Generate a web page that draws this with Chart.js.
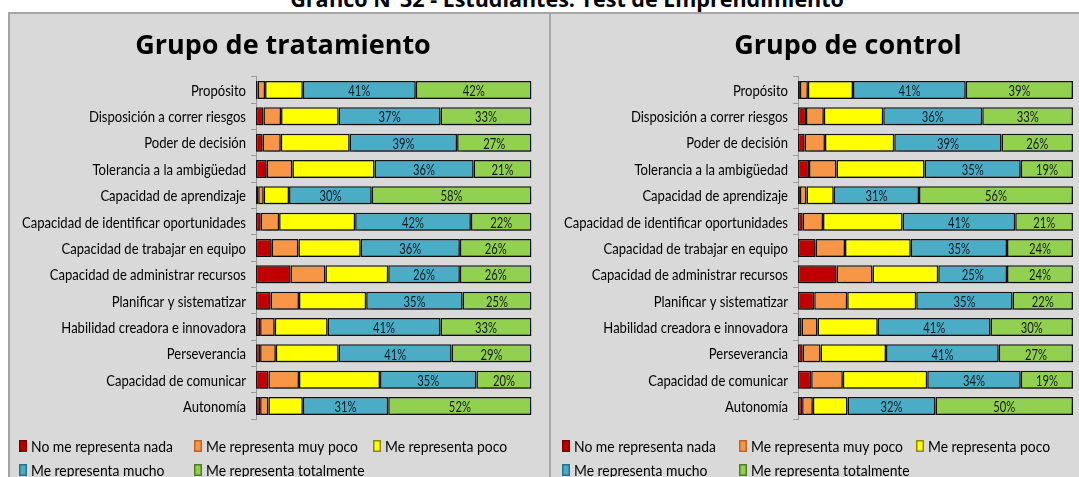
<!DOCTYPE html>
<html>
<head>
<meta charset="utf-8">
<script src="https://cdn.jsdelivr.net/npm/chart.js@4/dist/chart.umd.min.js"></script>
<style>
  html, body { margin: 0; padding: 0; background: #ffffff; }
  body { width: 1079px; height: 477px; position: relative; overflow: hidden; }
  #mainTitle {
    position: absolute; left: 0; top: -11px; width: 1134px; text-align: center;
    font: bold 21.5px "Open Sans", "Noto Sans", sans-serif; line-height: 20px; color: #000;
  }
  #frame {
    position: absolute; left: 8px; top: 12px; width: 1100px; height: 480px;
    background: #d9d9d9; border: 2px solid #a6a6a6; box-sizing: border-box;
  }
  #divider { position: absolute; left: 549px; top: 12px; width: 2px; height: 470px; background: #a6a6a6; }
  .panel { position: absolute; top: 0; height: 477px; }
</style>
</head>
<body>
<div id="frame"></div>
<div id="divider"></div>
<div id="mainTitle">Gráfico N°32 - Estudiantes: Test de Emprendimiento</div>
<div class="panel" style="left:0;width:550px;"><canvas id="cTrat"></canvas></div>
<div class="panel" style="left:550px;width:529px;"><canvas id="cCtrl"></canvas></div>
<script>
// Dimensions of entrepreneurship evaluated
const categories = [
  'Propósito',
  'Disposición a correr riesgos',
  'Poder de decisión',
  'Tolerancia a la ambigüedad',
  'Capacidad de aprendizaje',
  'Capacidad de identificar oportunidades',
  'Capacidad de trabajar en equipo',
  'Capacidad de administrar recursos',
  'Planificar y sistematizar',
  'Habilidad creadora e innovadora',
  'Perseverancia',
  'Capacidad de comunicar',
  'Autonomía'
];

const seriesNames = [
  'No me representa nada',
  'Me representa muy poco',
  'Me representa poco',
  'Me representa mucho',
  'Me representa totalmente'
];

// Grupo de tratamiento (% of students)
const tratNada       = [0.6, 2.7, 2.4, 3.9, 0.8, 1.7, 5.7, 12.5, 5.3, 1.5, 1.5, 4.5, 1.5];
const tratMuyPoco    = [2.7, 6.4, 6.6, 9.3, 2.0, 6.7, 9.7, 12.7, 10.3, 5.3, 5.7, 11.1, 3.0];
const tratPoco       = [13.7, 20.9, 25.0, 29.8, 9.2, 27.6, 22.6, 22.8, 24.4, 19.2, 22.8, 29.4, 12.5];
const tratMucho      = [41, 37, 39, 36, 30, 42, 36, 26, 35, 41, 41, 35, 31];
const tratTotalmente = [42, 33, 27, 21, 58, 22, 26, 26, 25, 33, 29, 20, 52];

// Grupo de control (% of students)
const ctrlNada       = [0.7, 2.9, 2.4, 4.0, 0.7, 1.7, 6.4, 14.0, 5.9, 1.3, 1.7, 4.8, 1.5];
const ctrlMuyPoco    = [2.9, 6.5, 7.4, 10.0, 2.4, 7.4, 10.7, 13.1, 12.0, 5.8, 6.5, 11.5, 3.9];
const ctrlPoco       = [16.4, 21.6, 25.2, 32.0, 9.9, 28.9, 23.9, 23.9, 25.1, 21.9, 23.8, 30.7, 12.6];
const ctrlMucho      = [41, 36, 39, 35, 31, 41, 35, 25, 35, 41, 41, 34, 32];
const ctrlTotalmente = [39, 33, 26, 19, 56, 21, 24, 24, 22, 30, 27, 19, 50];

const fillColors   = ['#c00000', '#f79646', '#ffff00', '#4bacc6', '#92d050'];
const legendEdges  = ['#7a0000', '#b8662a', '#8a8a00', '#2a7088', '#4f7a26'];
const labelledSets = [3, 4];

const textFamily = 'Lato, "Open Sans", sans-serif';

// Draws text squeezed horizontally by the factor sx
function drawNarrow(ctx, text, x, y, sx) {
  ctx.save();
  ctx.translate(x, y);
  ctx.scale(sx, 1);
  ctx.fillText(text, 0, 0);
  ctx.restore();
}

function squeezeFor(ctx, font, sample, width) {
  ctx.save();
  ctx.font = font;
  const w = ctx.measureText(sample).width;
  ctx.restore();
  return Math.min(1, width / w);
}

function buildDatasets(series) {
  return series.map((values, i) => ({
    label: seriesNames[i],
    data: values,
    backgroundColor: fillColors[i],
    borderColor: '#141414',
    borderWidth: 1.5,
    borderSkipped: false,
    barPercentage: 1,
    categoryPercentage: 0.685
  }));
}

// Soft drop shadow under the bars
const shadowPlugin = {
  id: 'barShadow',
  beforeDatasetsDraw(chart) {
    const ctx = chart.ctx;
    ctx.save();
    ctx.shadowColor = 'rgba(0,0,0,0.45)';
    ctx.shadowBlur = 5;
    ctx.shadowOffsetX = 2;
    ctx.shadowOffsetY = 4;
  },
  afterDatasetsDraw(chart) {
    chart.ctx.restore();
  }
};

// Percentage labels centred in the larger segments, plus category names
const labelPlugin = {
  id: 'labels',
  afterDatasetsDraw(chart) {
    const ctx = chart.ctx;
    ctx.save();
    const valFont = '16px ' + textFamily;
    const vsx = squeezeFor(ctx, valFont, '41%', 22);
    ctx.font = valFont;
    ctx.fillStyle = '#141a22';
    ctx.textAlign = 'center';
    ctx.textBaseline = 'middle';
    labelledSets.forEach(di => {
      const meta = chart.getDatasetMeta(di);
      const values = chart.data.datasets[di].data;
      meta.data.forEach((bar, idx) => {
        const cx = (bar.x + bar.base) / 2;
        drawNarrow(ctx, Math.round(values[idx]) + '%', cx, bar.y + 1, vsx);
      });
    });

    const yScale = chart.scales.y;
    const catFont = '15px ' + textFamily;
    const csx = squeezeFor(ctx, catFont, 'Capacidad de identificar oportunidades', 224);
    ctx.font = catFont;
    ctx.fillStyle = '#000';
    ctx.textAlign = 'right';
    chart.data.labels.forEach((lab, i) => {
      drawNarrow(ctx, lab, yScale.right - 10, yScale.getPixelForValue(i) + 1, csx);
    });
    ctx.restore();
  }
};

// Panel heading and two-row legend
const panelPlugin = {
  id: 'panelDecor',
  afterDraw(chart, args, opts) {
    const ctx = chart.ctx;
    ctx.save();
    ctx.font = 'bold 27px "Open Sans", "Noto Sans", sans-serif';
    ctx.fillStyle = '#000';
    ctx.textAlign = 'center';
    ctx.textBaseline = 'alphabetic';
    ctx.fillText(opts.heading, opts.headingX, 54);

    const legFont = '15.5px ' + textFamily;
    const lsx = squeezeFor(ctx, legFont, 'Me representa muy poco', 152);
    ctx.font = legFont;
    ctx.textAlign = 'left';
    ctx.textBaseline = 'middle';
    chart.data.datasets.forEach((ds, i) => {
      const pos = opts.legendPos[i];
      const bx = pos[0], cy = pos[1];
      ctx.fillStyle = ds.backgroundColor;
      ctx.fillRect(bx, cy - 6, 8, 12);
      ctx.strokeStyle = legendEdges[i];
      ctx.lineWidth = 1.5;
      ctx.strokeRect(bx + 0.75, cy - 5.25, 6.5, 10.5);
      ctx.fillStyle = '#000';
      drawNarrow(ctx, ds.label, bx + 12, cy + 1, lsx);
    });
    ctx.restore();
  }
};

function makeChart(canvasId, series, cfg) {
  return new Chart(document.getElementById(canvasId), {
    type: 'bar',
    data: { labels: categories, datasets: buildDatasets(series) },
    plugins: [shadowPlugin, labelPlugin, panelPlugin],
    options: {
      indexAxis: 'y',
      responsive: true,
      maintainAspectRatio: false,
      animation: false,
      layout: { padding: { left: 0, right: cfg.padRight, top: 76.8, bottom: 57.8 } },
      scales: {
        x: { stacked: true, min: 0, max: 100, display: false },
        y: {
          stacked: true,
          afterFit(scale) { scale.width = cfg.axisWidth; },
          grid: { offset: true, drawOnChartArea: false, tickLength: 5, color: '#9a9a9a', lineWidth: 1 },
          border: { display: true, color: '#9a9a9a', width: 1 },
          ticks: { display: false }
        }
      },
      plugins: {
        legend: { display: false },
        tooltip: { enabled: false },
        title: { display: false },
        panelDecor: cfg.decor
      }
    }
  });
}

makeChart('cTrat', [tratNada, tratMuyPoco, tratPoco, tratMucho, tratTotalmente], {
  padRight: 18.5,
  axisWidth: 256,
  decor: {
    heading: 'Grupo de tratamiento',
    headingX: 283,
    legendPos: [[19, 446], [194, 446], [373, 446], [19, 470], [194, 470]]
  }
});

makeChart('cCtrl', [ctrlNada, ctrlMuyPoco, ctrlPoco, ctrlMucho, ctrlTotalmente], {
  padRight: 6,
  axisWidth: 248,
  decor: {
    heading: 'Grupo de control',
    headingX: 298,
    legendPos: [[12, 446], [189, 446], [366, 446], [12, 470], [189, 470]]
  }
});
</script>
</body>
</html>
